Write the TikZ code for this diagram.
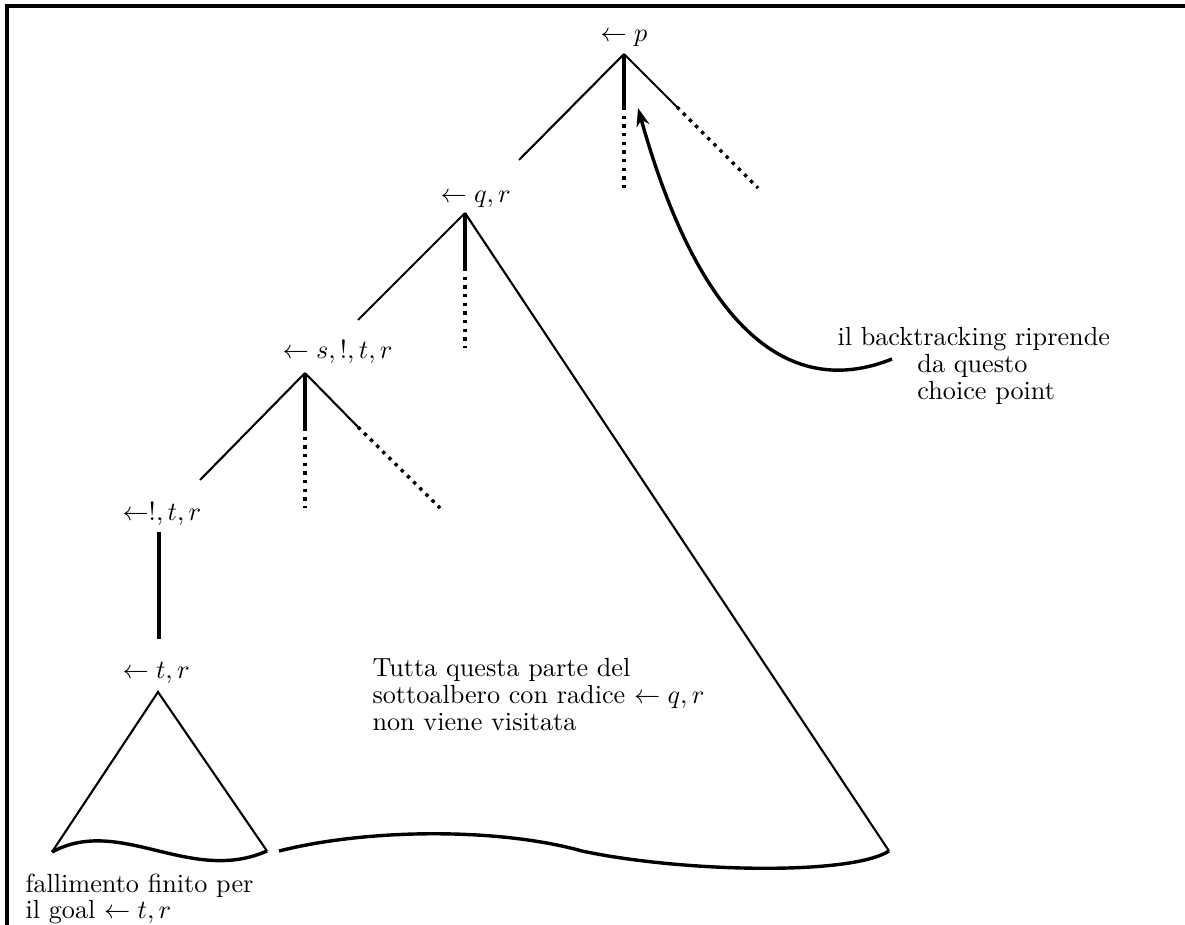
\documentclass[tikz,border=0pt]{standalone}
\usetikzlibrary{arrows.meta}
\begin{document}
\begin{tikzpicture}[x=0.3817pt, y=-0.3817pt]
    % Styles
    \tikzstyle{goal} = [anchor=base west, inner sep=0pt]
    \tikzstyle{note} = [anchor=north west, inner sep=0pt, align=left, font=\fontsize{10}{10.3}\selectfont]
    \tikzstyle{branch} = [line width=0.8pt]
    \tikzstyle{stem} = [line width=1.3pt]
    \tikzstyle{unexplored} = [line width=1.3pt, dotted]
    \tikzstyle{leaves} = [line width=1.3pt]
    \tikzstyle{arrow} = [line width=1.3pt, ->, >={Stealth[length=7pt, width=5pt]}]
    \tikzstyle{frame} = [line width=1.6pt]

    \useasboundingbox (0,0) rectangle (1185,924);
    \draw [frame] (7,940) -- (7,6) -- (1200,6);

    % Nodes
    \node [goal] (goalp) at (600,42) {$\leftarrow p$};
    \node [goal] (goalq) at (440,203) {$\leftarrow q, r$};
    \node [goal] (goals) at (282,358) {$\leftarrow s, !, t, r$};
    \node [goal] (goalcut) at (122,520) {$\leftarrow !, t, r$};
    \node [goal] (goalt) at (122,678) {$\leftarrow t, r$};

    % Branch points
    \coordinate (tp) at (624,54);
    \coordinate (pl) at (519,160);
    \coordinate (pm) at (624,107);
    \coordinate (pmd) at (624,190);
    \coordinate (pr) at (677,107);
    \coordinate (prd) at (758,188);
    \coordinate (tq) at (465,213);
    \coordinate (ql) at (358,320);
    \coordinate (qm) at (465,268);
    \coordinate (qmd) at (465,348);
    \coordinate (qr) at (889,851);
    \coordinate (ts) at (305,373);
    \coordinate (sl) at (200,480);
    \coordinate (sm) at (305,428);
    \coordinate (smd) at (305,508);
    \coordinate (sr) at (358,427);
    \coordinate (srd) at (440,508);
    \coordinate (tc) at (159,532);
    \coordinate (cb) at (159,639);
    \coordinate (tt) at (158,692);
    \coordinate (tl) at (52,852);
    \coordinate (tr) at (267,851);
    \coordinate (bl) at (279,851);

    % Edges
    \draw [branch] (tp) -- (pl);
    \draw [stem] (tp) -- (pm);
    \draw [unexplored] (pm) -- (pmd);
    \draw [branch] (tp) -- (pr);
    \draw [unexplored] (pr) -- (prd);

    \draw [branch] (tq) -- (ql);
    \draw [stem] (tq) -- (qm);
    \draw [unexplored] (qm) -- (qmd);
    \draw [branch] (tq) -- (qr);

    \draw [branch] (ts) -- (sl);
    \draw [stem] (ts) -- (sm);
    \draw [unexplored] (sm) -- (smd);
    \draw [branch] (ts) -- (sr);
    \draw [unexplored] (sr) -- (srd);

    \draw [stem] (tc) -- (cb);

    \draw [branch] (tl) -- (tt) -- (tr);
    \draw [leaves] (tl) .. controls (120,815) and (190,885) .. (tr);
    \draw [leaves] (bl) .. controls (370,828) and (500,828) .. (582,851)
        .. controls (680,872) and (850,876) .. (qr);

    % Labels
    \node [note] (unvisited) at (372,658) {Tutta questa parte del\\sottoalbero con radice $\leftarrow q, r$\\non viene visitata};
    \node [note] (backtrack) at (837,327) {il backtracking riprende\\\hspace*{30.5pt}da questo\\\hspace*{30.5pt}choice point};
    \node [note] (failure) at (25,873) {fallimento finito per\\il goal $\leftarrow t, r$};

    % Arrows
    \coordinate (bstart) at (892,359);
    \coordinate (choice) at (638,108);
    \draw [arrow] (bstart) .. controls (790,400) and (700,330) .. (choice);
\end{tikzpicture}
\end{document}
